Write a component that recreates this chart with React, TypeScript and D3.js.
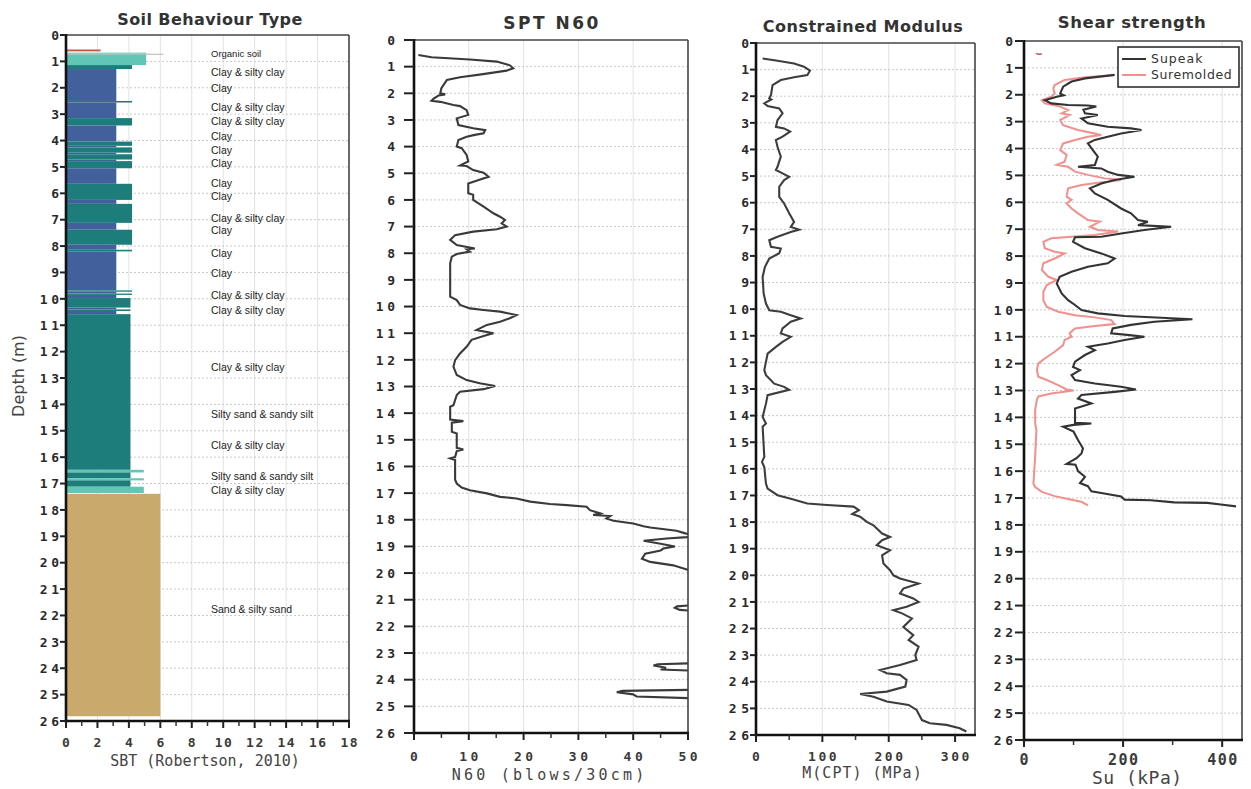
import React from 'react';
import * as d3 from 'd3';

// ---------------- DATA ----------------
// SBT layers: [top depth, base depth, SBT value, zone]
const sbtLayers: [number, number, number, string][] = [
  [0.55, 0.62, 2.2, 'organic'],
  [0.67, 0.71, 5.1, 'siltySand'],
  [0.71, 0.74, 6.2, 'grey'],
  [0.74, 1.14, 5.1, 'siltySand'],
  [1.14, 1.29, 4.2, 'clayey'],
  [1.29, 2.5, 3.2, 'clay'],
  [2.5, 2.56, 4.2, 'clayey'],
  [2.56, 3.15, 3.2, 'clay'],
  [3.15, 3.43, 4.2, 'clayey'],
  [3.43, 4.04, 3.2, 'clay'],
  [4.04, 4.2, 4.2, 'clayey'],
  [4.2, 4.26, 3.2, 'clay'],
  [4.26, 4.46, 4.2, 'clayey'],
  [4.46, 4.52, 3.2, 'clay'],
  [4.52, 4.72, 4.2, 'clayey'],
  [4.72, 4.78, 3.2, 'clay'],
  [4.78, 5.05, 4.2, 'clayey'],
  [5.05, 5.64, 3.2, 'clay'],
  [5.64, 6.25, 4.2, 'clayey'],
  [6.25, 6.4, 3.2, 'clay'],
  [6.4, 7.12, 4.2, 'clayey'],
  [7.12, 7.38, 3.2, 'clay'],
  [7.38, 7.95, 4.2, 'clayey'],
  [7.95, 8.14, 3.2, 'clay'],
  [8.14, 8.2, 4.2, 'clayey'],
  [8.2, 9.68, 3.2, 'clay'],
  [9.68, 9.73, 4.2, 'clayey'],
  [9.73, 9.8, 3.2, 'clay'],
  [9.8, 9.85, 4.2, 'clayey'],
  [9.85, 9.97, 3.2, 'clay'],
  [9.97, 10.33, 4.1, 'clayey'],
  [10.33, 10.4, 3.2, 'clay'],
  [10.4, 10.46, 4.1, 'clayey'],
  [10.46, 10.58, 3.2, 'clay'],
  [10.58, 16.48, 4.1, 'clayey'],
  [16.48, 16.58, 4.95, 'siltySand'],
  [16.58, 16.8, 4.1, 'clayey'],
  [16.8, 16.88, 4.95, 'siltySand'],
  [16.88, 17.12, 4.1, 'clayey'],
  [17.12, 17.36, 4.95, 'siltySand'],
  [17.39, 25.82, 6.0, 'sand'],
];

const sbtZones = ['organic', 'clay', 'clayey', 'siltySand', 'sand', 'grey'];
const sbtColors = ['#c9563e', '#42609b', '#1c7d7b', '#62c6b7', '#c9aa6c', '#b9b5aa'];

const sbtLabelDepths = [0.72, 1.4, 2.01, 2.73, 3.26, 3.83, 4.36, 4.85, 5.61, 6.1, 6.93, 7.39, 8.26, 9.05, 9.85, 10.42, 12.58, 14.39, 15.57, 16.74, 17.27, 21.78];
const sbtLabelTexts = [
  'Organic soil', 'Clay & silty clay', 'Clay', 'Clay & silty clay', 'Clay & silty clay', 'Clay', 'Clay', 'Clay',
  'Clay', 'Clay', 'Clay & silty clay', 'Clay', 'Clay', 'Clay', 'Clay & silty clay', 'Clay & silty clay',
  'Clay & silty clay', 'Silty sand & sandy silt', 'Clay & silty clay', 'Silty sand & sandy silt', 'Clay & silty clay',
  'Sand & silty sand',
];

// SPT N60 profile [depth, N60]
const n60Profile: [number, number][] = [
  [0.56, 0.8], [0.65, 3.2], [0.73, 10.2], [0.81, 15.1], [0.95, 17.5], [1.06, 18.1], [1.15, 16.9], [1.28, 12.6],
  [1.4, 8.4], [1.5, 6.0], [1.81, 5.0], [2.0, 4.8], [2.04, 5.7], [2.08, 4.5], [2.13, 4.1], [2.2, 3.6], [2.28, 3.2],
  [2.32, 4.8], [2.44, 7.2], [2.48, 8.4], [2.63, 9.6], [2.81, 9.9], [2.94, 7.8], [3.19, 8.1], [3.31, 10.8],
  [3.38, 13.0], [3.5, 12.7], [3.56, 11.1], [3.63, 9.6], [3.75, 8.1], [4.0, 7.8], [4.06, 8.7], [4.31, 9.6],
  [4.56, 9.9], [4.71, 8.4], [4.73, 9.6], [4.88, 10.8], [4.98, 12.7], [5.13, 13.6], [5.25, 11.8], [5.38, 9.9],
  [5.75, 9.9], [5.81, 10.8], [6.0, 10.8], [6.25, 12.7], [6.5, 14.5], [6.63, 15.7], [6.75, 16.6], [6.88, 16.0],
  [7.0, 16.9], [7.1, 15.1], [7.19, 10.8], [7.32, 7.5], [7.5, 6.6], [7.69, 7.8], [7.82, 11.1], [7.85, 9.6],
  [7.94, 10.2], [8.03, 7.8], [8.13, 6.9], [8.38, 6.6], [9.63, 6.6], [9.76, 7.8], [9.94, 8.4], [10.07, 10.2],
  [10.13, 12.7], [10.19, 15.7], [10.32, 18.7], [10.44, 17.5], [10.57, 15.7], [10.69, 13.3], [10.88, 11.4],
  [11.0, 14.5], [11.07, 13.3], [11.25, 10.5], [11.51, 9.6], [11.76, 8.4], [12.01, 7.5], [12.26, 7.2],
  [12.57, 7.8], [12.76, 9.6], [12.88, 12.0], [12.98, 14.8], [13.1, 12.7], [13.2, 8.4], [13.32, 7.8],
  [13.7, 7.2], [13.76, 6.6], [14.24, 6.6], [14.3, 9.0], [14.36, 6.9], [14.7, 6.9], [14.76, 7.8], [15.3, 7.8],
  [15.36, 9.0], [15.42, 7.8], [15.65, 7.5], [15.7, 6.6], [15.76, 7.5], [16.5, 7.5], [16.64, 7.8], [16.79, 8.7],
  [16.89, 10.2], [17.01, 13.3], [17.14, 15.7], [17.2, 18.7], [17.32, 21.2], [17.41, 24.8], [17.45, 27.9],
  [17.51, 31.5], [17.64, 32.1], [17.76, 34.0], [17.82, 32.7], [17.86, 35.8], [17.95, 35.1], [18.04, 36.4],
  [18.14, 40.0], [18.24, 41.9], [18.29, 43.1], [18.41, 47.9], [18.51, 49.5], [18.58, 51], [18.65, 49.8],
  [18.7, 46.1], [18.79, 41.9], [18.9, 45.0], [19.0, 47.6], [19.08, 45.5], [19.15, 45.0], [19.27, 42.2],
  [19.46, 41.6], [19.58, 43.1], [19.71, 47.3], [19.85, 49.5], [19.95, 51], [21.2, 51], [21.25, 48.0],
  [21.3, 47.6], [21.38, 48.5], [21.42, 51], [23.38, 51], [23.42, 44.5], [23.47, 43.7], [23.55, 46.0],
  [23.62, 45.0], [23.66, 51], [24.38, 51], [24.42, 38.0], [24.47, 37.0], [24.55, 40.0], [24.63, 40.6],
  [24.7, 51], [24.8, 51],
];

// Constrained modulus [depth, M (MPa)]
const modulusProfile: [number, number][] = [
  [0.58, 10], [0.67, 32.4], [0.77, 57.4], [0.89, 72.3], [1.04, 81.3], [1.2, 77.4], [1.29, 57.4], [1.39, 37.4],
  [1.58, 25], [1.96, 22.5], [2.08, 20], [2.12, 23], [2.27, 12.5], [2.37, 17.5], [2.46, 35], [2.64, 40],
  [2.9, 32.4], [3.15, 30], [3.21, 42.4], [3.33, 51.4], [3.52, 40], [3.65, 30], [3.9, 32.4], [4.27, 37.4],
  [4.65, 32.4], [4.77, 30], [4.9, 40], [5.03, 50], [5.15, 42.4], [5.4, 35], [5.78, 35], [6.03, 42.4],
  [6.4, 50], [6.72, 57.4], [6.91, 52.4], [7.01, 65], [7.1, 52.4], [7.28, 32.4], [7.41, 20], [7.66, 22.5],
  [7.72, 37.4], [7.9, 35], [8.1, 20], [8.41, 13.5], [8.79, 10], [9.41, 11.5], [9.79, 15], [10.04, 20],
  [10.1, 37.4], [10.23, 52.4], [10.35, 67.4], [10.47, 52.4], [10.72, 40], [10.91, 37.4], [11.04, 52.4],
  [11.23, 40], [11.42, 30], [11.67, 17.5], [11.98, 15], [12.29, 12.5], [12.48, 15], [12.8, 27.5],
  [12.92, 42.4], [13.03, 50], [13.23, 17.5], [13.55, 15], [14.05, 10], [14.3, 15], [14.42, 10], [15.55, 12.5],
  [15.74, 9], [15.93, 12.5], [16.55, 15], [16.74, 17.5], [16.99, 32.4], [17.12, 52.4], [17.3, 77.4],
  [17.36, 107], [17.42, 147], [17.55, 155], [17.7, 145], [17.8, 157], [17.99, 167], [18.12, 177],
  [18.43, 190], [18.56, 202], [18.68, 190], [18.87, 182], [19.06, 202], [19.25, 190], [19.56, 192],
  [19.81, 202], [20.0, 207], [20.12, 217], [20.31, 245], [20.5, 222], [20.68, 217], [20.87, 237],
  [21.0, 245], [21.18, 227], [21.31, 207], [21.43, 220], [21.62, 235], [21.94, 222], [22.25, 237],
  [22.43, 230], [22.68, 245], [23.0, 240], [23.18, 242], [23.37, 217], [23.56, 187], [23.68, 197],
  [23.74, 217], [23.93, 227], [24.18, 225], [24.37, 197], [24.46, 157], [24.56, 177], [24.74, 197],
  [24.87, 230], [25.06, 242], [25.44, 250], [25.56, 262], [25.62, 287], [25.75, 307], [25.87, 317],
];

// Shear strength [depth, Su (kPa)]
const suPeak: [number, number][] = [
  [1.26, 183], [1.39, 123], [1.51, 96], [1.7, 79], [1.95, 73], [2.02, 80], [2.07, 66], [2.2, 42], [2.32, 55],
  [2.38, 89], [2.4, 129], [2.44, 146], [2.56, 120], [2.69, 123], [2.75, 149], [2.88, 116], [3.06, 129],
  [3.19, 169], [3.25, 216], [3.31, 237], [3.44, 196], [3.56, 169], [3.68, 143], [3.81, 129], [4.06, 139],
  [4.3, 149], [4.61, 143], [4.68, 109], [4.74, 156], [4.86, 169], [4.98, 190], [5.05, 223], [5.17, 183],
  [5.3, 156], [5.48, 133], [5.67, 143], [5.91, 169], [6.23, 196], [6.41, 216], [6.66, 230], [6.72, 250],
  [6.85, 230], [6.91, 297], [7.03, 243], [7.16, 196], [7.28, 156], [7.3, 103], [7.47, 99], [7.71, 123],
  [7.9, 156], [8.09, 183], [8.27, 169], [8.4, 129], [8.58, 96], [8.77, 72], [9.02, 66], [9.39, 76],
  [9.64, 89], [9.82, 103], [10.01, 116], [10.13, 149], [10.23, 203], [10.35, 340], [10.44, 263],
  [10.56, 216], [10.69, 179], [10.87, 176], [10.94, 213], [11.0, 243], [11.12, 203], [11.25, 169],
  [11.37, 129], [11.5, 143], [11.68, 123], [11.93, 103], [12.12, 99], [12.24, 113], [12.43, 96],
  [12.61, 103], [12.74, 143], [12.86, 196], [12.96, 226], [13.05, 183], [13.17, 116], [13.3, 109],
  [13.48, 136], [13.67, 103], [14.2, 103], [14.23, 136], [14.28, 100], [14.35, 79], [14.53, 100],
  [14.84, 109], [15.15, 119], [15.34, 116], [15.52, 106], [15.73, 86], [15.76, 104], [16.0, 109],
  [16.21, 123], [16.44, 113], [16.56, 129], [16.75, 136], [16.81, 156], [16.94, 196], [17.06, 203],
  [17.08, 256], [17.16, 303], [17.18, 370], [17.24, 397], [17.31, 428],
];

const suRemolded: [number, number][] = [
  [1.27, 179], [1.35, 123], [1.45, 82], [1.64, 62], [1.76, 59], [1.95, 62], [2.07, 55], [2.2, 36], [2.32, 42],
  [2.44, 73], [2.57, 89], [2.69, 76], [2.75, 92], [2.94, 73], [3.13, 79], [3.31, 109], [3.44, 143],
  [3.5, 156], [3.56, 129], [3.68, 103], [3.81, 79], [4.06, 73], [4.24, 86], [4.49, 82], [4.61, 66],
  [4.68, 89], [4.86, 103], [4.98, 129], [5.11, 163], [5.17, 196], [5.27, 149], [5.36, 116], [5.48, 89],
  [5.79, 86], [5.91, 96], [6.04, 86], [6.23, 96], [6.41, 109], [6.66, 129], [6.72, 153], [6.91, 133],
  [7.03, 149], [7.09, 190], [7.22, 143], [7.28, 96], [7.34, 55], [7.47, 39], [7.71, 42], [7.84, 62],
  [7.9, 82], [8.09, 62], [8.27, 39], [8.52, 36], [8.77, 49], [8.89, 66], [9.08, 46], [9.33, 39], [9.64, 39],
  [9.89, 46], [10.07, 69], [10.2, 103], [10.28, 143], [10.38, 176], [10.53, 183], [10.6, 143],
  [10.69, 103], [10.87, 92], [11.0, 96], [11.12, 82], [11.31, 79], [11.56, 62], [11.81, 42], [11.99, 29],
  [12.24, 26], [12.49, 29], [12.61, 46], [12.8, 69], [12.96, 86], [13.0, 100], [13.11, 55], [13.22, 29],
  [13.35, 26], [13.72, 22.5], [14.22, 22.5], [14.47, 25], [15.46, 22.5], [16.46, 19], [16.59, 22.5],
  [16.77, 36], [16.93, 62], [17.06, 96], [17.14, 116], [17.27, 129],
];

const suStray: [number, number][] = [[0.47, 24], [0.49, 30], [0.48, 36]];

const depthTicks = [0, 1, 2, 3, 4, 5, 6, 7, 8, 9, 10, 11, 12, 13, 14, 15, 16, 17, 18, 19, 20, 21, 22, 23, 24, 25, 26];
const sbtTicks = [0, 2, 4, 6, 8, 10, 12, 14, 16, 18];
const sbtMinor = [1, 3, 5, 7, 9, 11, 13, 15, 17];
const n60Ticks = [0, 10, 20, 30, 40, 50];
const n60Minor = [5, 15, 25, 35, 45];
const modTicks = [0, 100, 200, 300];
const modMinor = [50, 150, 250];
const suTicks = [0, 200, 400];
const suMinor = [100, 300];

// ---------------- LAYOUT ----------------
type Cfg = {
  id: string;
  left: number; right: number; top: number; bottom: number; xMax: number;
  majors: number[]; minors: number[]; grid: number[];
  title: string; titleX: number; titleY: number; titleSize: number; titleLs: number;
  xTitle: string; xTitleX: number; xTitleY: number; xTitleSize: number; xTitleLs: number;
  xTickY: number; xTickSize: number; xTickLs: number;
  yTickLen: number; yLabelGap: number; yTickSize: number; yTickLs: number;
};

const panels: Cfg[] = [
  {
    id: 'p1', left: 66, right: 349, top: 35, bottom: 721, xMax: 18,
    majors: sbtTicks, minors: sbtMinor, grid: [2, 4, 6, 8, 10, 12, 14, 16],
    title: 'Soil Behaviour Type', titleX: 210, titleY: 25, titleSize: 16, titleLs: 0.4,
    xTitle: 'SBT (Robertson, 2010)', xTitleX: 205, xTitleY: 766, xTitleSize: 15, xTitleLs: 0,
    xTickY: 747, xTickSize: 13, xTickLs: 1.5,
    yTickLen: 6, yLabelGap: 7, yTickSize: 13, yTickLs: 3.5,
  },
  {
    id: 'p2', left: 414, right: 688, top: 40, bottom: 733, xMax: 50,
    majors: n60Ticks, minors: n60Minor, grid: [10, 20, 30, 40],
    title: 'SPT N60', titleX: 552, titleY: 29, titleSize: 17, titleLs: 2.5,
    xTitle: 'N60 (blows/30cm)', xTitleX: 548, xTitleY: 780, xTitleSize: 15, xTitleLs: 3.2,
    xTickY: 761, xTickSize: 13, xTickLs: 3.5,
    yTickLen: 10, yLabelGap: 19, yTickSize: 13, yTickLs: 3.5,
  },
  {
    id: 'p3', left: 756, right: 975, top: 43, bottom: 735, xMax: 330,
    majors: modTicks, minors: modMinor, grid: [100, 200, 300],
    title: 'Constrained Modulus', titleX: 863, titleY: 32, titleSize: 16, titleLs: 0.5,
    xTitle: 'M(CPT) (MPa)', xTitleX: 862, xTitleY: 778, xTitleSize: 15, xTitleLs: 1,
    xTickY: 761, xTickSize: 13, xTickLs: 2.5,
    yTickLen: 6, yLabelGap: 7, yTickSize: 13, yTickLs: 4.5,
  },
  {
    id: 'p4', left: 1024, right: 1242, top: 41, bottom: 740, xMax: 440,
    majors: suTicks, minors: suMinor, grid: [200, 400],
    title: 'Shear strength', titleX: 1132, titleY: 28, titleSize: 16.5, titleLs: 0.6,
    xTitle: 'Su (kPa)', xTitleX: 1137, xTitleY: 784, xTitleSize: 18, xTitleLs: 0.5,
    xTickY: 765, xTickSize: 15, xTickLs: 1.5,
    yTickLen: 9, yLabelGap: 11, yTickSize: 13, yTickLs: 3.5,
  },
];

const monoFont = '"DejaVu Sans Mono", "Liberation Mono", monospace';
const sansFont = '"DejaVu Sans", Verdana, sans-serif';
const narrowFont = '"Liberation Sans Narrow", "Liberation Sans", Arial, sans-serif';

function scalesFor(c: Cfg) {
  const x = d3.scaleLinear().domain([0, c.xMax]).range([c.left, c.right]);
  const y = d3.scaleLinear().domain([0, 26]).range([c.top, c.bottom]);
  return { x, y };
}

function Grid({ c }: { c: Cfg }) {
  const { x, y } = scalesFor(c);
  return (
    <g>
      {c.grid.map((g) => (
        <line key={'v' + g} x1={x(g)} x2={x(g)} y1={c.top} y2={c.bottom} stroke="#e2e2e2" strokeWidth={1} />
      ))}
      {depthTicks.slice(1, -1).map((d) => (
        <line key={'h' + d} x1={c.left} x2={c.right} y1={y(d)} y2={y(d)} stroke="#c9c9c9" strokeWidth={1} strokeDasharray="2,2" />
      ))}
    </g>
  );
}

function Frame({ c }: { c: Cfg }) {
  const { x, y } = scalesFor(c);
  return (
    <g>
      <line x1={c.left} x2={c.right} y1={c.top} y2={c.top} stroke="#444" strokeWidth={1.6} />
      <line x1={c.right} x2={c.right} y1={c.top} y2={c.bottom} stroke="#444" strokeWidth={1.6} />
      <line x1={c.left} x2={c.left} y1={c.top - 1} y2={c.bottom + 1.5} stroke="#111" strokeWidth={2.6} />
      <line x1={c.left - 1} x2={c.right + 1} y1={c.bottom} y2={c.bottom} stroke="#111" strokeWidth={2.6} />
      {depthTicks.map((d) => (
        <g key={'yt' + d}>
          <line x1={c.left - c.yTickLen} x2={c.left} y1={y(d)} y2={y(d)} stroke="#222" strokeWidth={2} />
          <text
            x={c.left - c.yLabelGap + c.yTickLs}
            y={y(d)}
            dy="0.36em"
            textAnchor="end"
            fontFamily={monoFont}
            fontWeight="bold"
            fontSize={c.yTickSize}
            letterSpacing={c.yTickLs}
            fill="#2a2a2a"
          >
            {d}
          </text>
        </g>
      ))}
      {c.majors.map((t) => (
        <g key={'xt' + t}>
          <line x1={x(t)} x2={x(t)} y1={c.bottom} y2={c.bottom + 7} stroke="#222" strokeWidth={2} />
          <text
            x={x(t) + c.xTickLs / 2}
            y={c.xTickY}
            textAnchor="middle"
            fontFamily={monoFont}
            fontWeight="bold"
            fontSize={c.xTickSize}
            letterSpacing={c.xTickLs}
            fill="#3a3a3a"
          >
            {t}
          </text>
        </g>
      ))}
      {c.minors.map((t) => (
        <line key={'mt' + t} x1={x(t)} x2={x(t)} y1={c.bottom} y2={c.bottom + 5} stroke="#333" strokeWidth={1.5} />
      ))}
      <text
        x={c.titleX}
        y={c.titleY}
        textAnchor="middle"
        fontFamily={sansFont}
        fontWeight="bold"
        fontSize={c.titleSize}
        letterSpacing={c.titleLs}
        fill="#333"
      >
        {c.title}
      </text>
      <text
        x={c.xTitleX + c.xTitleLs / 2}
        y={c.xTitleY}
        textAnchor="middle"
        fontFamily={monoFont}
        fontSize={c.xTitleSize}
        letterSpacing={c.xTitleLs}
        fill="#444"
      >
        {c.xTitle}
      </text>
    </g>
  );
}

export default function App() {
  const [p1, p2, p3, p4] = panels;
  const s1 = scalesFor(p1);
  const s2 = scalesFor(p2);
  const s3 = scalesFor(p3);
  const s4 = scalesFor(p4);
  const zoneColor = d3.scaleOrdinal<string, string>().domain(sbtZones).range(sbtColors);

  const lineOf = (s: { x: d3.ScaleLinear<number, number>; y: d3.ScaleLinear<number, number> }) =>
    d3.line<[number, number]>().x((d) => s.x(d[1])).y((d) => s.y(d[0]));

  return (
    <svg width={1251} height={789} style={{ display: 'block', position: 'absolute', left: 0, top: 0, background: '#fff' }}>
      <defs>
        {panels.map((c) => (
          <clipPath id={'clip-' + c.id} key={c.id}>
            <rect x={c.left} y={c.top} width={c.right - c.left} height={c.bottom - c.top} />
          </clipPath>
        ))}
      </defs>
      <rect x={0} y={0} width={1251} height={789} fill="#fff" />

      {panels.map((c) => (
        <Grid c={c} key={'g' + c.id} />
      ))}

      {/* Panel 1: SBT */}
      <g>
        {sbtLayers.map(([top, base, v, z], i) => (
          <rect
            key={'l' + i}
            x={s1.x(0)}
            y={s1.y(top)}
            width={s1.x(v) - s1.x(0)}
            height={Math.max(1, s1.y(base) - s1.y(top))}
            fill={zoneColor(z)}
          />
        ))}
        {sbtLabelTexts.map((t, i) => (
          <text
            key={'lt' + i}
            x={211}
            y={s1.y(sbtLabelDepths[i])}
            dy="0.35em"
            fontFamily={narrowFont}
            fontSize={i === 0 ? 9.5 : 10.5}
            fill="#222"
          >
            {t}
          </text>
        ))}
      </g>

      {/* Panel 2: N60 */}
      <path d={lineOf(s2)(n60Profile) || ''} fill="none" stroke="#3a3a3a" strokeWidth={2.1} clipPath="url(#clip-p2)" />

      {/* Panel 3: Modulus */}
      <path d={lineOf(s3)(modulusProfile) || ''} fill="none" stroke="#3d3d3d" strokeWidth={2.1} clipPath="url(#clip-p3)" />

      {/* Panel 4: Shear strength */}
      <path d={lineOf(s4)(suRemolded) || ''} fill="none" stroke="#f2908e" strokeWidth={2} clipPath="url(#clip-p4)" />
      <path d={lineOf(s4)(suPeak) || ''} fill="none" stroke="#333" strokeWidth={2.1} clipPath="url(#clip-p4)" />
      <path d={lineOf(s4)(suStray) || ''} fill="none" stroke="#c05050" strokeWidth={1.5} clipPath="url(#clip-p4)" />

      {panels.map((c) => (
        <Frame c={c} key={'f' + c.id} />
      ))}

      {/* Y axis title */}
      <text
        transform="translate(24,376) rotate(-90)"
        textAnchor="middle"
        fontFamily={sansFont}
        fontSize={16}
        fill="#444"
      >
        Depth (m)
      </text>

      {/* Legend */}
      <g>
        <rect x={1118} y={47} width={121} height={40} fill="#fff" stroke="#222" strokeWidth={1.5} />
        <line x1={1122} x2={1146} y1={59} y2={59} stroke="#333" strokeWidth={2} />
        <text x={1151} y={59} dy="0.35em" fontFamily={sansFont} fontSize={12.5} letterSpacing={1} fill="#333">
          Supeak
        </text>
        <line x1={1122} x2={1146} y1={75} y2={75} stroke="#f2908e" strokeWidth={2} />
        <text x={1151} y={75} dy="0.35em" fontFamily={sansFont} fontSize={12.5} letterSpacing={0.6} fill="#333">
          Suremolded
        </text>
      </g>
    </svg>
  );
}
